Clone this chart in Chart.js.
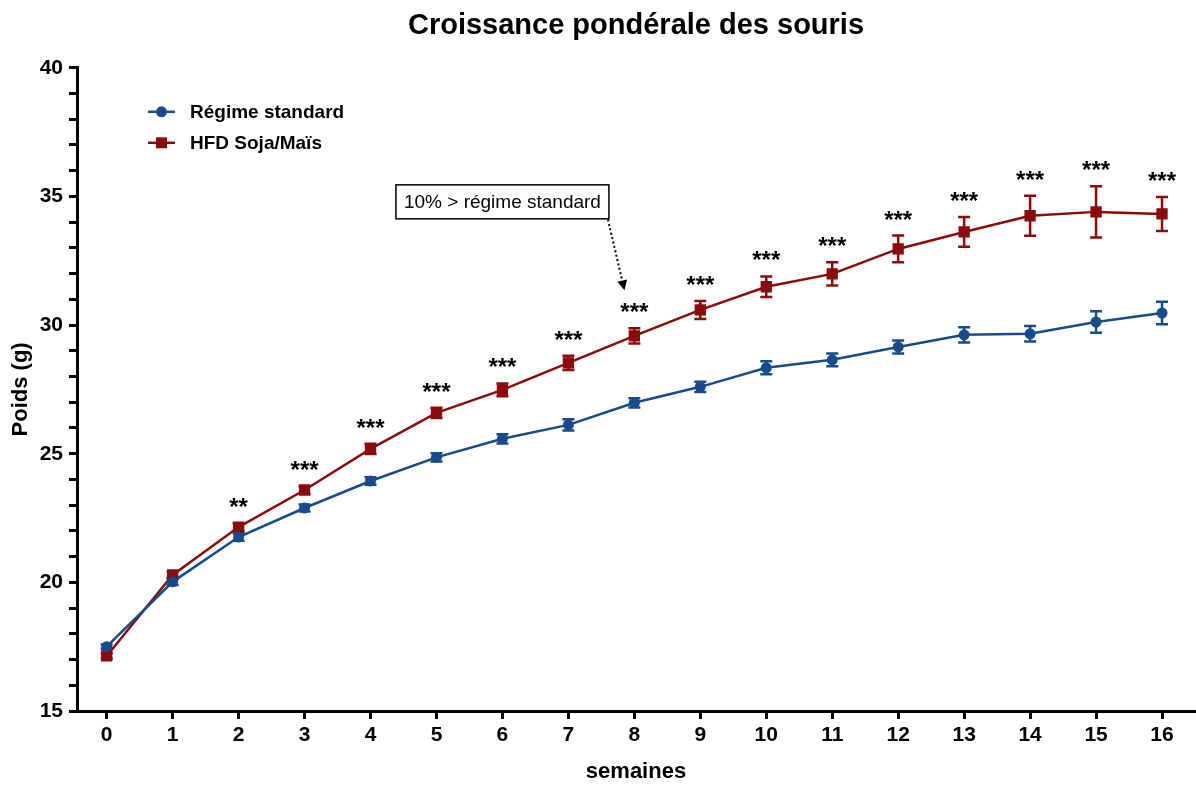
<!DOCTYPE html>
<html><head><meta charset="utf-8">
<script src="https://cdn.jsdelivr.net/npm/chart.js@4.4.1/dist/chart.umd.min.js"></script>
<style>html,body{margin:0;padding:0;background:#fff}</style>
</head><body>
<canvas id="c" width="1196" height="785"></canvas>
<script>
// ---- data ----
const weeks = [0,1,2,3,4,5,6,7,8,9,10,11,12,13,14,15,16];
const standardMean = [17.5,20.02,21.76,22.89,23.94,24.86,25.58,26.12,26.98,27.6,28.34,28.65,29.15,29.62,29.66,30.12,30.47];
const standardSem  = [0.08,0.12,0.14,0.14,0.15,0.16,0.18,0.22,0.18,0.2,0.25,0.25,0.25,0.3,0.3,0.42,0.44];
const hfdMean = [17.14,20.29,22.15,23.59,25.19,26.59,27.48,28.53,29.58,30.59,31.49,31.99,32.96,33.62,34.25,34.4,34.32];
const hfdSem  = [0.1,0.12,0.15,0.15,0.2,0.2,0.25,0.28,0.3,0.35,0.4,0.45,0.52,0.58,0.78,1.0,0.66];
const significance = ['','','**','***','***','***','***','***','***','***','***','***','***','***','***','***','***'];
const yTickValues = [15,16,17,18,19,20,21,22,23,24,25,26,27,28,29,30,31,32,33,34,35,36,37,38,39,40];
const seriesNames = ['Régime standard','HFD Soja/Maïs'];
const annotationText = '10% > régime standard';

const BLUE = '#174b8c';
const RED = '#8a0b0b';
const FONT = "'Liberation Sans', Arial, Helvetica, sans-serif";

const errorBars = {
  id: 'errorBars',
  beforeDatasetsDraw(chart) {
    const ctx = chart.ctx, xs = chart.scales.x, ys = chart.scales.y;
    const sets = [[standardMean, standardSem, BLUE],[hfdMean, hfdSem, RED]];
    ctx.save();
    ctx.lineWidth = 2.5;
    sets.forEach(([m, e, col]) => {
      ctx.strokeStyle = col;
      weeks.forEach((w, i) => {
        const px = xs.getPixelForValue(w);
        const top = ys.getPixelForValue(m[i] + e[i]);
        const bot = ys.getPixelForValue(m[i] - e[i]);
        ctx.beginPath();
        ctx.moveTo(px, top); ctx.lineTo(px, bot);
        ctx.moveTo(px - 6, top); ctx.lineTo(px + 6, top);
        ctx.moveTo(px - 6, bot); ctx.lineTo(px + 6, bot);
        ctx.stroke();
      });
    });
    ctx.restore();
  }
};

const extras = {
  id: 'extras',
  afterDraw(chart) {
    const ctx = chart.ctx, xs = chart.scales.x, ys = chart.scales.y, ca = chart.chartArea;
    ctx.save();
    // significance stars
    ctx.fillStyle = '#000';
    ctx.font = "bold 24px " + FONT;
    ctx.textAlign = 'center';
    ctx.textBaseline = 'alphabetic';
    weeks.forEach((w, i) => {
      if (!significance[i]) return;
      const px = xs.getPixelForValue(w);
      const top = ys.getPixelForValue(hfdMean[i] + hfdSem[i]);
      ctx.fillText(significance[i], px, top - 8);
    });
    // legend
    const items = [[seriesNames[0], BLUE, 'circle'],[seriesNames[1], RED, 'rect']];
    items.forEach(([label, col, shape], k) => {
      const y = ca.top + 44 + k * 31;
      const x0 = ca.left + 71, x1 = ca.left + 98, xm = (x0 + x1) / 2;
      ctx.strokeStyle = col; ctx.lineWidth = 2.5;
      ctx.beginPath(); ctx.moveTo(x0, y); ctx.lineTo(x1, y); ctx.stroke();
      ctx.fillStyle = col;
      if (shape === 'circle') { ctx.beginPath(); ctx.arc(xm, y, 5.5, 0, Math.PI * 2); ctx.fill(); }
      else { ctx.fillRect(xm - 5.5, y - 5.5, 11, 11); }
      ctx.fillStyle = '#000';
      ctx.font = "bold 19px " + FONT;
      ctx.textAlign = 'left'; ctx.textBaseline = 'middle';
      ctx.fillText(label, ca.left + 113, y + 1);
    });
    // annotation box
    const bx = xs.getPixelForValue(6.0), by = ys.getPixelForValue(34.79);
    ctx.font = "19px " + FONT;
    const tw = ctx.measureText(annotationText).width;
    const bw = tw + 16, bh = 34;
    ctx.fillStyle = '#fff';
    ctx.fillRect(bx - bw / 2, by - bh / 2, bw, bh);
    ctx.strokeStyle = '#000'; ctx.lineWidth = 1.5;
    ctx.strokeRect(bx - bw / 2, by - bh / 2, bw, bh);
    ctx.fillStyle = '#000'; ctx.textAlign = 'center'; ctx.textBaseline = 'middle';
    ctx.fillText(annotationText, bx, by + 1);
    // dotted arrow
    const ax0 = xs.getPixelForValue(7.6), ay0 = ys.getPixelForValue(34.1);
    const ax1 = xs.getPixelForValue(7.85), ay1 = ys.getPixelForValue(31.35);
    const ang = Math.atan2(ay1 - ay0, ax1 - ax0);
    const hl = 10, hw = 5;
    const bxh = ax1 - hl * Math.cos(ang), byh = ay1 - hl * Math.sin(ang);
    ctx.setLineDash([2, 2.5]); ctx.lineWidth = 2;
    ctx.beginPath(); ctx.moveTo(ax0, ay0); ctx.lineTo(bxh, byh); ctx.stroke();
    ctx.setLineDash([]);
    ctx.beginPath();
    ctx.moveTo(ax1, ay1);
    ctx.lineTo(bxh + hw * Math.sin(ang), byh - hw * Math.cos(ang));
    ctx.lineTo(bxh - hw * Math.sin(ang), byh + hw * Math.cos(ang));
    ctx.closePath(); ctx.fill();
    ctx.restore();
  }
};

const tickFont = { family: FONT, size: 21, weight: 'bold' };

new Chart(document.getElementById('c'), {
  type: 'line',
  data: {
    datasets: [
      { label: seriesNames[0], data: weeks.map((w, i) => ({ x: w, y: standardMean[i] })),
        borderColor: BLUE, backgroundColor: BLUE, borderWidth: 2.5, tension: 0,
        pointStyle: 'circle', pointRadius: 5.5, pointBorderWidth: 0 },
      { label: seriesNames[1], data: weeks.map((w, i) => ({ x: w, y: hfdMean[i] })),
        borderColor: RED, backgroundColor: RED, borderWidth: 2.5, tension: 0,
        pointStyle: 'rect', pointRadius: 8, pointBorderWidth: 0 }
    ]
  },
  options: {
    responsive: false,
    animation: false,
    layout: { autoPadding: false, padding: { left: 0, right: 1, top: 0, bottom: 0 } },
    plugins: {
      legend: { display: false },
      tooltip: { enabled: false },
      title: { display: true, text: 'Croissance pondérale des souris', fullSize: false,
        color: '#000', font: { family: FONT, size: 29, weight: 'bold' }, padding: { top: 9, bottom: 24 } }
    },
    scales: {
      x: {
        type: 'linear', min: -0.45, max: 16.5,
        afterBuildTicks: s => { s.ticks = weeks.map(v => ({ value: v })); },
        afterFit: s => { s.height = 74; s.paddingLeft = 0; s.paddingRight = 0; },
        ticks: { autoSkip: false, maxRotation: 0, color: '#000', font: tickFont, padding: 4, callback: v => String(v) },
        grid: { drawOnChartArea: false, drawTicks: true, tickLength: 8, tickColor: '#000', tickWidth: 3 },
        border: { display: true, color: '#000', width: 3 },
        title: { display: true, text: 'semaines', color: '#000', font: { family: FONT, size: 22, weight: 'bold' }, padding: { top: 0, bottom: 0 } }
      },
      y: {
        min: 15, max: 40,
        afterBuildTicks: s => { s.ticks = yTickValues.map(v => ({ value: v })); },
        afterFit: s => { s.width = 77; },
        ticks: { autoSkip: false, color: '#000', font: tickFont, padding: 6, callback: v => (v % 5 === 0 ? String(v) : '') },
        grid: { drawOnChartArea: false, drawTicks: true, tickLength: 8, tickColor: '#000', tickWidth: 3 },
        border: { display: true, color: '#000', width: 3 },
        title: { display: true, text: 'Poids (g)', color: '#000', font: { family: FONT, size: 22, weight: 'bold' }, padding: { top: 8, bottom: 0 } }
      }
    }
  },
  plugins: [errorBars, extras]
});
</script>
</body></html>
